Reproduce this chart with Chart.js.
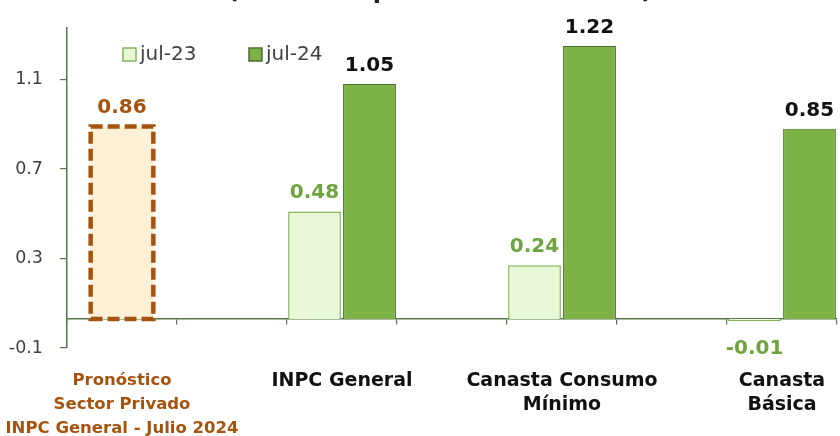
<!DOCTYPE html>
<html>
<head>
<meta charset="utf-8">
<script src="https://cdn.jsdelivr.net/npm/chart.js@4.4.1/dist/chart.umd.min.js"></script>
<style>
  html, body { margin: 0; padding: 0; background: #ffffff; }
  #wrap { width: 840px; height: 436px; position: relative; }
</style>
</head>
<body>
<div id="wrap"><canvas id="c" width="840" height="436"></canvas></div>
<script>
// ---- data ----
const categories = [
  ['Pronóstico', 'Sector Privado', 'INPC General - Julio 2024'],
  '',
  'INPC General',
  '',
  ['Canasta Consumo', 'Mínimo'],
  '',
  ['Canasta', 'Básica']
];
const forecastValues = [0.86, null, null, null, null, null, null];
const jul23Values    = [null, null, 0.48, null, 0.24, null, -0.01];
const jul24Values    = [null, null, 1.05, null, 1.22, null, 0.85];
const seriesNames = ['Pronóstico', 'jul-23', 'jul-24'];
const yTickValues = [-0.13, 0.27, 0.67, 1.07];
const yTickLabels = ['-0.1', '0.3', '0.7', '1.1'];
const yMin = -0.13;
const yMax = 1.30;
const titleText = '(Variación porcentual mensual)';

// ---- styles ----
const FONT = "'DejaVu Sans', sans-serif";
const BROWN = '#A5540F';
const AXIS = '#55794A';
const LABEL_COLORS = [BROWN, '#6FA33F', '#111111'];

Chart.defaults.font.family = FONT;

const partialTitle = {
  id: 'partialTitle',
  afterDraw(chart) {
    const ctx = chart.ctx;
    ctx.save();
    ctx.font = 'bold 24px ' + FONT;
    ctx.fillStyle = '#222222';
    ctx.textAlign = 'center';
    ctx.textBaseline = 'alphabetic';
    ctx.fillText(titleText, 440, -2);
    ctx.restore();
  }
};

const dashedBorder = {
  id: 'dashedBorder',
  afterDatasetsDraw(chart) {
    const ctx = chart.ctx;
    const meta = chart.getDatasetMeta(0);
    ctx.save();
    ctx.strokeStyle = BROWN;
    ctx.lineWidth = 4.5;
    ctx.setLineDash([12, 5]);
    meta.data.forEach((el, i) => {
      if (forecastValues[i] === null) return;
      const left = el.x - el.width / 2;
      const top = Math.min(el.y, el.base);
      const h = Math.abs(el.base - el.y);
      ctx.strokeRect(left, top, el.width, h);
    });
    ctx.restore();
  }
};

const valueLabels = {
  id: 'valueLabels',
  afterDatasetsDraw(chart) {
    const ctx = chart.ctx;
    ctx.save();
    ctx.font = 'bold 20px ' + FONT;
    ctx.textAlign = 'center';
    ctx.textBaseline = 'alphabetic';
    chart.data.datasets.forEach((ds, di) => {
      const meta = chart.getDatasetMeta(di);
      meta.data.forEach((el, i) => {
        const v = ds.data[i];
        if (v === null || v === undefined) return;
        ctx.fillStyle = LABEL_COLORS[di];
        const txt = v.toFixed(2);
        if (v >= 0) {
          ctx.fillText(txt, el.x, el.y - 13);
        } else {
          ctx.fillText(txt, el.x, el.y + 33);
        }
      });
    });
    ctx.restore();
  }
};

const insideLegend = {
  id: 'insideLegend',
  afterDraw(chart) {
    const ctx = chart.ctx;
    const area = chart.chartArea;
    const items = [1, 2];
    const offsets = [56, 182];
    ctx.save();
    ctx.font = '20px ' + FONT;
    ctx.textBaseline = 'middle';
    ctx.textAlign = 'left';
    items.forEach((di, k) => {
      const ds = chart.data.datasets[di];
      const x = area.left + offsets[k];
      const y = area.top + 20;
      ctx.fillStyle = ds.backgroundColor;
      ctx.fillRect(x, y, 13, 13);
      ctx.strokeStyle = ds.borderColor;
      ctx.lineWidth = 1.5;
      ctx.strokeRect(x, y, 13, 13);
      ctx.fillStyle = '#404040';
      ctx.fillText(ds.label, x + 17, y + 7);
    });
    ctx.restore();
  }
};

new Chart(document.getElementById('c'), {
  type: 'bar',
  data: {
    labels: categories,
    datasets: [
      {
        label: seriesNames[0],
        data: forecastValues,
        backgroundColor: '#FDF0D5',
        borderWidth: 0,
        barPercentage: 0.57,
        categoryPercentage: 1.0,
        skipNull: true
      },
      {
        label: seriesNames[1],
        data: jul23Values,
        backgroundColor: '#E8F8D6',
        borderColor: '#84B55C',
        borderWidth: 1.5,
        barPercentage: 0.96,
        categoryPercentage: 1.0,
        skipNull: true
      },
      {
        label: seriesNames[2],
        data: jul24Values,
        backgroundColor: '#7DB246',
        borderColor: '#4D6E35',
        borderWidth: 1,
        barPercentage: 0.96,
        categoryPercentage: 1.0,
        skipNull: true
      }
    ]
  },
  options: {
    responsive: false,
    devicePixelRatio: 1,
    animation: false,
    layout: { padding: { top: 28, right: 3, left: 0, bottom: 0 } },
    plugins: {
      legend: { display: false },
      tooltip: { enabled: false },
      title: { display: false }
    },
    scales: {
      x: {
        type: 'category',
        position: 'bottom',
        offset: true,
        grid: { display: false },
        border: { display: false },
        ticks: {
          autoSkip: false,
          maxRotation: 0,
          minRotation: 0,
          padding: 13,
          font: (ctx) => ({
            size: ctx.index === 0 ? 16.5 : 19,
            weight: 'bold',
            lineHeight: '24px',
            family: FONT
          }),
          color: (ctx) => ctx.index === 0 ? BROWN : '#111111'
        },
        afterFit: (scale) => {
          scale.height = 88;
          scale.paddingLeft = 0;
          scale.paddingRight = 0;
        }
      },
      x2: {
        type: 'category',
        position: { y: 0 },
        offset: true,
        grid: {
          display: true,
          offset: true,
          drawOnChartArea: false,
          drawTicks: true,
          tickLength: 5,
          color: AXIS,
          lineWidth: 1.2
        },
        border: { display: true, color: AXIS, width: 1.5 },
        ticks: { display: false },
        afterFit: (scale) => {
          scale.paddingLeft = 0;
          scale.paddingRight = 0;
        }
      },
      y: {
        type: 'linear',
        min: yMin,
        max: yMax,
        afterBuildTicks: (scale) => {
          scale.ticks = yTickValues.map(v => ({ value: v }));
        },
        grid: {
          display: true,
          drawOnChartArea: false,
          drawTicks: true,
          tickLength: 7,
          color: AXIS,
          lineWidth: 1.2
        },
        border: { display: true, color: AXIS, width: 1.5 },
        ticks: {
          padding: 17,
          font: { size: 17.5 },
          color: '#404040',
          callback: (value, index) => yTickLabels[index]
        },
        afterFit: (scale) => {
          scale.width = 67;
          scale.paddingTop = 0;
          scale.paddingBottom = 0;
        }
      }
    }
  },
  plugins: [dashedBorder, valueLabels, insideLegend, partialTitle]
});
</script>
</body>
</html>
